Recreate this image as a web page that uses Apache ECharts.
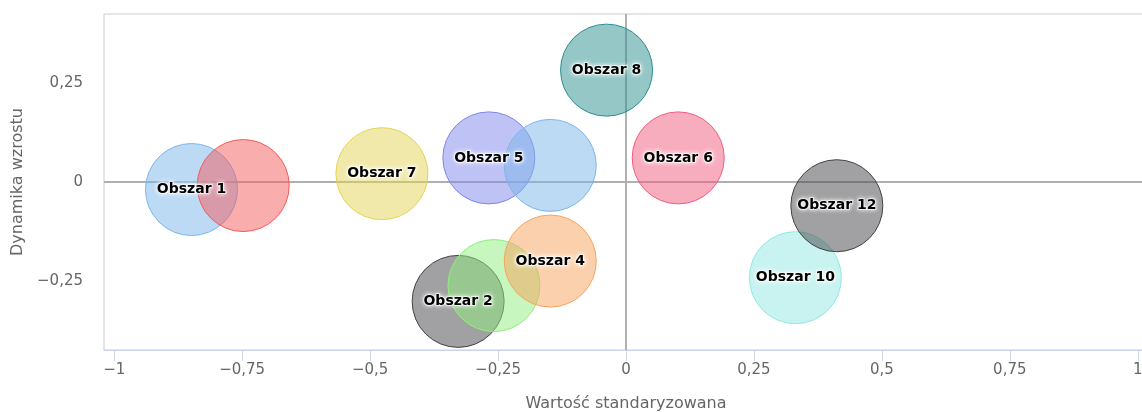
<!DOCTYPE html>
<html>
<head>
<meta charset="utf-8">
<title>Obszary</title>
<script src="https://cdn.jsdelivr.net/npm/echarts@6/dist/echarts.min.js"></script>
<style>
html, body { margin: 0; padding: 0; background: #fff; }
#chart { width: 1142px; height: 412px; }
</style>
</head>
<body>
<div id="chart"></div>
<script>
// dane wykresu
var areaNames = ['Obszar 1', 'Obszar 2', 'Obszar 3', 'Obszar 4', 'Obszar 5', 'Obszar 6',
	'Obszar 7', 'Obszar 8', 'Obszar 9', 'Obszar 10', 'Obszar 11', 'Obszar 12'];
var xValues = [-0.849, -0.328, -0.258, -0.148, -0.268, 0.102, -0.477, -0.038, -0.748, 0.331, -0.148, 0.412];
var yValues = [-0.019, -0.302, -0.262, -0.200, 0.061, 0.061, 0.021, 0.283, -0.009, -0.242, 0.042, -0.060];
var hiddenLabels = ['Obszar 3', 'Obszar 9', 'Obszar 11']; // etykiety zasłonięte
var xTicks = [-1, -0.75, -0.5, -0.25, 0, 0.25, 0.5, 0.75, 1];
var yTicks = [-0.25, 0, 0.25];

var palette = ['#7cb5ec', '#434348', '#90ed7d', '#f7a35c', '#8085e9', '#f15c80',
	'#e4d354', '#2b908f', '#f45b5b', '#91e8e1'];

function fmtNum(v) {
	return String(v).replace('.', ',').replace('-', '\u2212');
}

function hexToRgba(hex, a) {
	var n = parseInt(hex.slice(1), 16);
	return 'rgba(' + (n >> 16) + ',' + ((n >> 8) & 255) + ',' + (n & 255) + ',' + a + ')';
}

function initChart() {
	var chart = echarts.init(document.getElementById('chart'), null, { renderer: 'canvas' });
	var font = 'DejaVu Sans';

	var points = [];
	for (var i = 0; i < areaNames.length; i++) {
		var c = palette[i % palette.length];
		points.push({
			name: areaNames[i],
			value: [xValues[i], yValues[i]],
			itemStyle: { color: hexToRgba(c, 0.5), borderColor: c, borderWidth: 1, opacity: 1 },
			label: { show: hiddenLabels.indexOf(areaNames[i]) < 0 }
		});
	}

	var option = {
		animation: false,
		grid: {
			left: 104, top: 14, width: 1044, height: 336,
			outerBoundsMode: 'none',
			containLabel: false,
			show: true, borderColor: '#cccccc', borderWidth: 1
		},
		xAxis: {
			type: 'value',
			min: -1.02, max: 1.02,
			name: 'Wartość standaryzowana',
			nameLocation: 'middle',
			nameGap: 46,
			nameTextStyle: { color: '#666666', fontSize: 16, fontFamily: font },
			axisLine: { show: true, onZero: false, lineStyle: { color: '#ccd6eb', width: 1 } },
			axisTick: { show: true, length: 11, customValues: xTicks, lineStyle: { color: '#ccd6eb' } },
			axisLabel: {
				customValues: xTicks, margin: 13,
				color: '#666666', fontSize: 15, fontFamily: font,
				formatter: fmtNum
			},
			splitLine: { show: false }
		},
		yAxis: {
			type: 'value',
			min: -0.425, max: 0.425,
			name: 'Dynamika wzrostu',
			nameLocation: 'middle',
			nameGap: 76,
			nameTextStyle: { color: '#666666', fontSize: 16, fontFamily: font },
			axisLine: { show: false },
			axisTick: { show: false },
			axisLabel: {
				customValues: yTicks, margin: 21,
				color: '#666666', fontSize: 15, fontFamily: font,
				formatter: fmtNum
			},
			splitLine: { show: false }
		},
		series: [{
			type: 'scatter',
			z: 1,
			data: [],
			markLine: {
				z: 1,
				silent: true,
				symbol: 'none',
				label: { show: false },
				lineStyle: { color: '#b0b0b0', width: 2, type: 'solid', opacity: 1 },
				data: [{ xAxis: 0 }, { yAxis: 0 }]
			}
		}, {
			type: 'scatter',
			z: 3,
			symbolSize: 92,
			data: points,
			itemStyle: { opacity: 1 },
			label: {
				position: 'inside',
				color: '#000000',
				fontSize: 14,
				fontWeight: 'bold',
				fontFamily: font,
				formatter: '{b}',
				textBorderColor: 'rgba(255,255,255,0.6)',
				textBorderWidth: 2,
				textShadowColor: '#ffffff',
				textShadowBlur: 4
			},
			emphasis: { disabled: true }
		}]
	};
	chart.setOption(option);
}

initChart();
</script>
</body>
</html>
